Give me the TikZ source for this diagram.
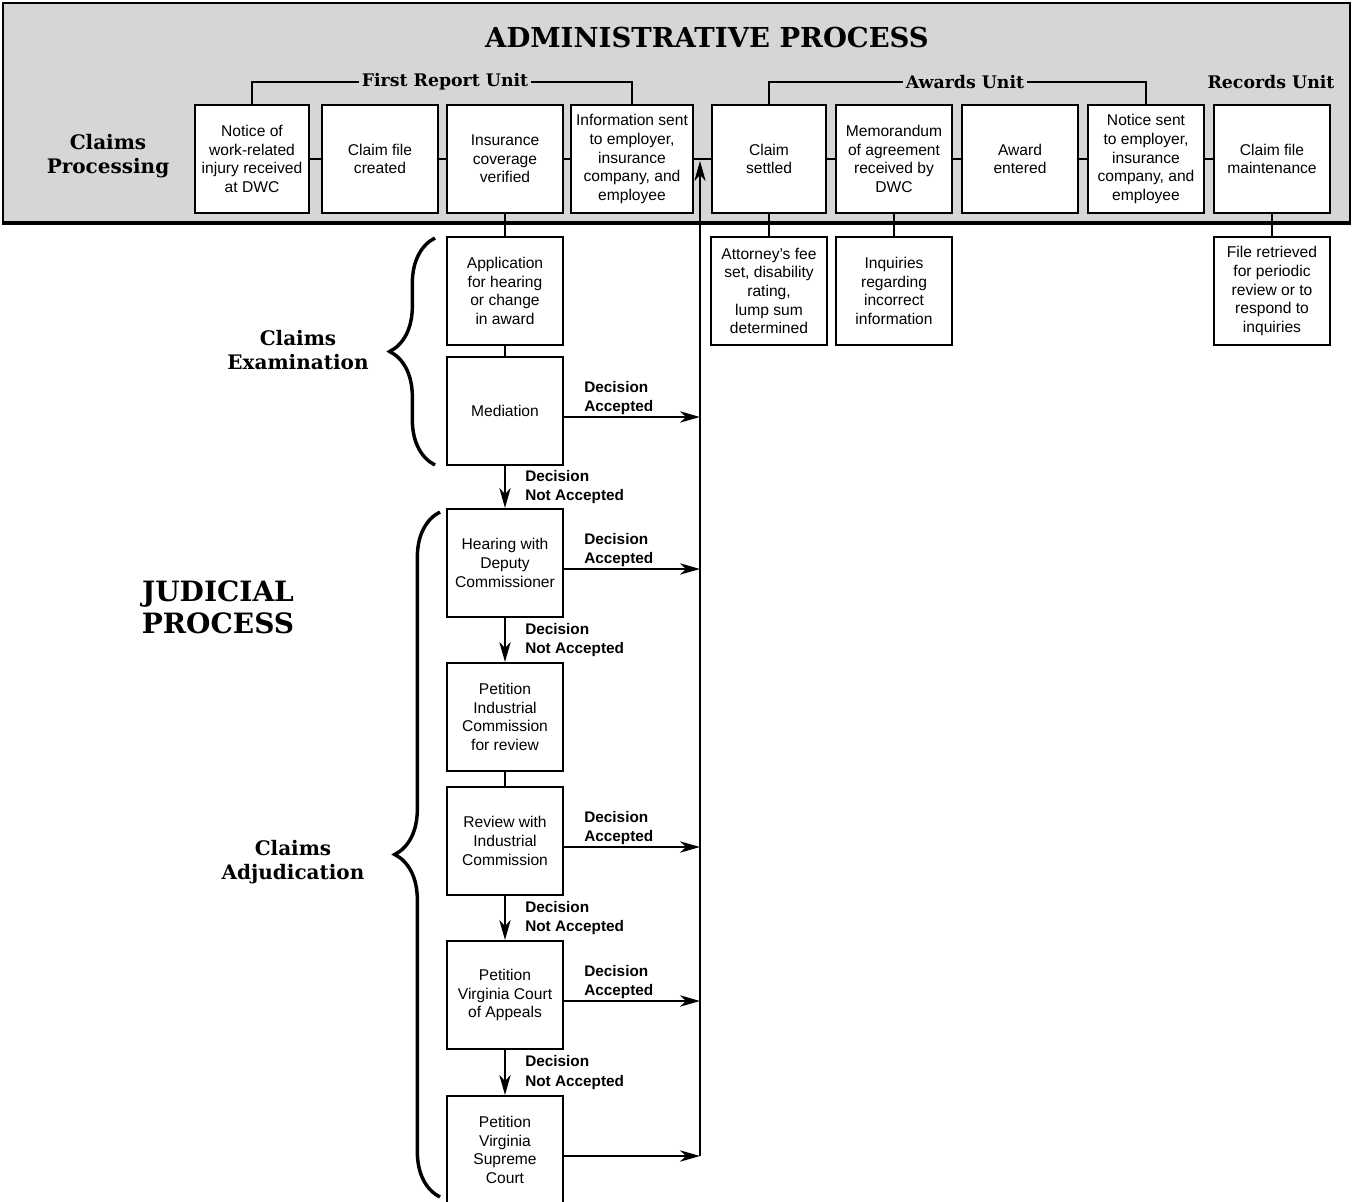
\documentclass[tikz,border=0pt]{standalone}
\usepackage{fontspec}
\setmainfont{Liberation Sans}
\newfontfamily\slabfont{DejaVu Serif}
\usepackage{tikz}
\usetikzlibrary{arrows.meta}
\usetikzlibrary{calc}
\usetikzlibrary{decorations.pathreplacing}

\begin{document}
\begin{tikzpicture}[x=0.75pt, y=-0.75pt,
		box/.style={draw, line width=1.6pt, fill=white, align=center, inner sep=1pt, minimum width=87pt, minimum height=81pt, font=\fontsize{11.7}{14}\selectfont},
		link/.style={line width=1.4pt},
		arr/.style={line width=1.4pt, -{Stealth[length=15pt, width=8.5pt, inset=4.5pt]}},
		declbl/.style={align=left, inner sep=0pt, font=\fontsize{11.5}{14.5}\selectfont\bfseries},
		sidehead/.style={align=center, inner sep=0pt, font=\fontsize{15}{18.5}\selectfont\slabfont\bfseries},
		unitlbl/.style={inner sep=2pt, font=\fontsize{13}{15}\selectfont\slabfont\bfseries},
		curly/.style={line width=2.6pt, decorate, decoration={brace, amplitude=34pt}}]
			\useasboundingbox (0,0) rectangle (1352,1202);

			\fill[gray!32] (3,3) rectangle (1350,224);
			\draw[line width=1.5pt] (3,3) rectangle (1350,224);
			\draw[line width=3pt] (3,223) -- (1350,223);

			\node[font=\fontsize{20.6}{24}\selectfont\slabfont\bfseries] (adm) at (707,38) {ADMINISTRATIVE PROCESS};
			\node[sidehead] (cpr) at (108,156) {Claims\\Processing};

			\node[box, minimum width=85pt] (b1) at (252,159) {Notice of\\work-related\\injury received\\at DWC};
			\node[box] (b2) at (380,159) {Claim file\\created};
			\node[box] (b3) at (505,159) {Insurance\\coverage\\verified};
			\node[box, minimum width=91.5pt] (b4) at (632,159) {Information sent\\to employer,\\insurance\\company, and\\employee};
			\node[box, minimum width=85pt] (b5) at (769,159) {Claim\\settled};
			\node[box] (b6) at (894,159) {Memorandum\\of agreement\\received by\\DWC};
			\node[box] (b7) at (1020,159) {Award\\entered};
			\node[box] (b8) at (1146,159) {Notice sent\\to employer,\\insurance\\company, and\\employee};
			\node[box] (b9) at (1272,159) {Claim file\\maintenance};

			\node[unitlbl] (fru) at (445,82) {First Report Unit};
			\node[unitlbl] (awu) at (965,82) {Awards Unit};
			\node[unitlbl] (reu) at (1271,82) {Records Unit};
			\draw[link] (b1.north) |- (fru.west);
			\draw[link] (fru.east) -| (b4.north);
			\draw[link] (b5.north) |- (awu.west);
			\draw[link] (awu.east) -| (b8.north);

			\node[box] (s5) at (769,291) {Attorney's fee\\set, disability\\rating,\\lump sum\\determined};
			\node[box] (s6) at (894,291) {Inquiries\\regarding\\incorrect\\information};
			\node[box] (s9) at (1272,291) {File retrieved\\for periodic\\review or to\\respond to\\inquiries};

			\node[box] (app) at (505,291) {Application\\for hearing\\or change\\in award};
			\node[box] (med) at (505,411) {Mediation};
			\node[box] (hear) at (505,563) {Hearing with\\Deputy\\Commissioner};
			\node[box] (pic) at (505,717) {Petition\\Industrial\\Commission\\for review};
			\node[box] (rev) at (505,841) {Review with\\Industrial\\Commission};
			\node[box] (coa) at (505,995) {Petition\\Virginia Court\\of Appeals};
			\node[box] (sup) at (505,1150) {Petition\\Virginia\\Supreme\\Court};

			\foreach \a/\b in {b1/b2,b2/b3,b3/b4,b4/b5,b5/b6,b6/b7,b7/b8,b8/b9,b3/app,app/med,pic/rev,b5/s5,b6/s6,b9/s9}
				\draw[link] (\a) -- (\b);

			\coordinate (trtop) at (700,161);
			\foreach \n in {med,hear,rev,coa,sup}
				\draw[arr] ($(\n.east)+(0,6)$) coordinate (\n-out) -- (\n-out -| trtop);
			\draw[arr] (sup-out -| trtop) -- (trtop);

			\foreach \n in {med,hear,rev,coa}
				\node[declbl, anchor=south west] (\n-acc) at ($(\n.east)+(20,4)$) {Decision\\Accepted};

			\foreach \a/\b in {med/hear,hear/pic,rev/coa,coa/sup}{
				\draw[arr] (\a) -- (\b);
				\node[declbl, anchor=west] (\a-not) at ($(\a.south)!0.5!(\b.north)+(20,0)$) {Decision\\Not Accepted};
			}

			\draw[curly] (435,465) -- (435,238);
			\draw[curly] (440,1197) -- (440,512);
			\node[sidehead] (cex) at (298,350) {Claims\\Examination};
			\node[sidehead] (cad) at (293,862) {Claims\\Adjudication};
			\node[sidehead, font=\fontsize{21}{24}\selectfont\slabfont\bfseries] (jud) at (218,607) {JUDICIAL\\PROCESS};
		\end{tikzpicture}
\end{document}
